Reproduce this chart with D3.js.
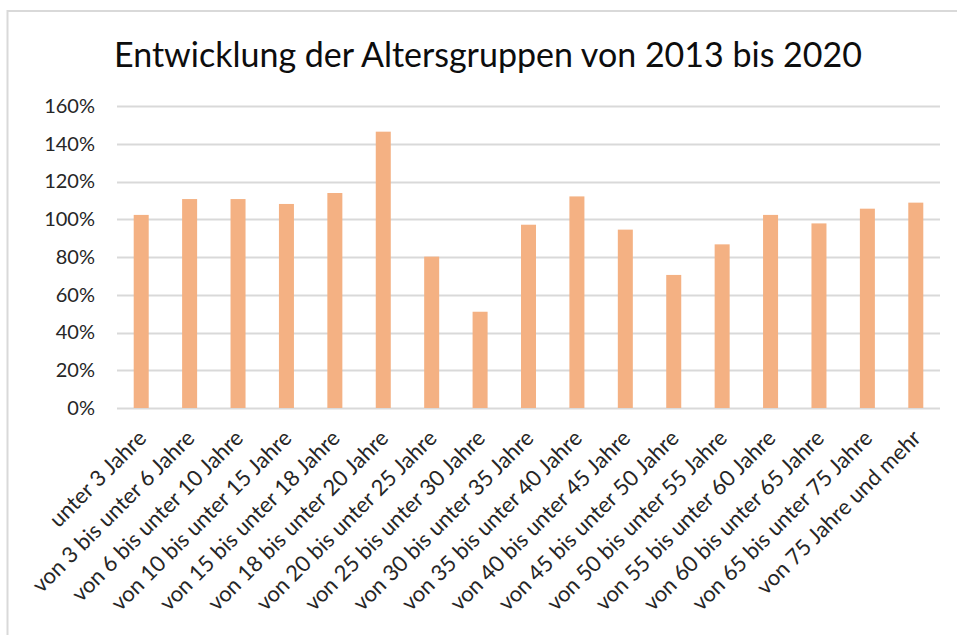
<!DOCTYPE html>
<html>
<head>
<meta charset="utf-8">
<script src="https://cdn.jsdelivr.net/npm/d3@7"></script>
<style>
  body { margin: 0; background: #fff; }
  svg { display: block; }
  text { font-family: Lato, "Open Sans", sans-serif; }
</style>
</head>
<body>
<svg id="chart" width="957" height="635"></svg>
<script>
var title = "Entwicklung der Altersgruppen von 2013 bis 2020"
var categories = ["unter 3 Jahre", "von 3 bis unter 6 Jahre", "von 6 bis unter 10 Jahre",
  "von 10 bis unter 15 Jahre", "von 15 bis unter 18 Jahre", "von 18 bis unter 20 Jahre",
  "von 20 bis unter 25 Jahre", "von 25 bis unter 30 Jahre", "von 30 bis unter 35 Jahre",
  "von 35 bis unter 40 Jahre", "von 40 bis unter 45 Jahre", "von 45 bis unter 50 Jahre",
  "von 50 bis unter 55 Jahre", "von 55 bis unter 60 Jahre", "von 60 bis unter 65 Jahre",
  "von 65 bis unter 75 Jahre", "von 75 Jahre und mehr"]
var values = [1.023, 1.107, 1.107, 1.081, 1.139, 1.464, 0.802, 0.510, 0.971,
  1.121, 0.945, 0.705, 0.867, 1.023, 0.978, 1.056, 1.088]
var yTicks = [0, 0.2, 0.4, 0.6, 0.8, 1.0, 1.2, 1.4, 1.6]

var svg = d3.select("#chart")

// chart frame (light grey, only top and left visible in the screenshot)
svg.append("path")
    .attr("d", "M7.5,640 V11 H960")
    .style("fill", "none")
    .style("stroke", "#d9d9d9")
    .style("stroke-width", "2px")

svg.append("text")
    .attr("x", 488).attr("y", 67)
    .attr("text-anchor", "middle")
    .style("font-size", "34px")
    .style("fill", "#0d0d0d")
    .text(title)

var x = d3.scaleBand().domain(categories).range([117, 940]).paddingInner(0.69).paddingOuter(0.345)
var y = d3.scaleLinear().domain([0, 1.6]).range([408, 106])

// gridlines
svg.append("g").selectAll("line").data(yTicks).join("line")
    .attr("x1", 117).attr("x2", 940)
    .attr("y1", function(d) { return Math.round(y(d)) + 0.5 })
    .attr("y2", function(d) { return Math.round(y(d)) + 0.5 })
    .style("stroke", "#d9d9d9")
    .style("stroke-width", "2px")

var yAxis = svg.append("g").attr("transform", "translate(95,0)")
    .call(d3.axisLeft(y).tickValues(yTicks).tickFormat(d3.format(".0%")).tickSize(0).tickPadding(0))
yAxis.select(".domain").remove()
yAxis.selectAll("text")
    .style("font-family", "Lato, 'Open Sans', sans-serif")
    .style("font-size", "20px")
    .style("fill", "#262626")

svg.append("g").selectAll("rect").data(values).join("rect")
    .attr("x", function(d, i) { return x(categories[i]) })
    .attr("y", function(d) { return y(d) })
    .attr("width", x.bandwidth())
    .attr("height", function(d) { return y(0) - y(d) })
    .style("fill", "#f4b183")

// rotated category labels
svg.append("g").selectAll("text").data(categories).join("text")
    .attr("transform", function(d) {
      return "translate(" + (x(d) + x.bandwidth() / 2 + 1) + ",434) rotate(-45)"
    })
    .attr("text-anchor", "end")
    .attr("dy", "0.35em")
    .style("font-size", "22px")
    .style("fill", "#262626")
    .text(function(d) { return d })
</script>
</body>
</html>
